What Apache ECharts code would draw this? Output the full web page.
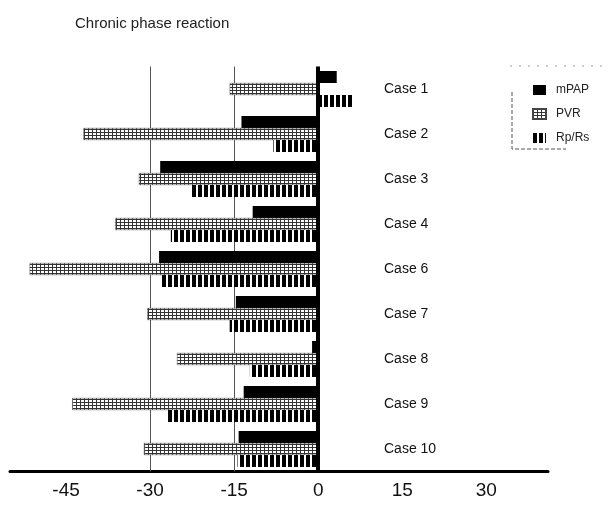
<!DOCTYPE html>
<html><head><meta charset="utf-8">
<script src="https://cdn.jsdelivr.net/npm/echarts@6/dist/echarts.min.js"></script>
<style>html,body{margin:0;padding:0;background:#fff}#c{width:608px;height:512px}</style>
</head><body><div id="c"></div>
<script>
const categories = ['Case 1','Case 2','Case 3','Case 4','Case 6','Case 7','Case 8','Case 9','Case 10'];
const mPAP = [3.3, -13.7, -28.2, -11.7, -28.4, -14.7, -1.1, -13.3, -14.2];
const PVR  = [-15.8, -41.9, -32.0, -36.2, -51.5, -30.5, -25.2, -43.9, -31.1];
const RpRs = [6.2, -8.0, -22.6, -26.3, -27.9, -15.8, -12.2, -26.8, -14.4];
const xTicks = [-45, -30, -15, 0, 15, 30];
const refLines = [-30, -15];

function pvrPattern(){
  const c = document.createElement('canvas'); c.width = 4; c.height = 3;
  const g = c.getContext('2d');
  g.fillStyle = '#fff'; g.fillRect(0,0,4,3);
  g.fillStyle = '#333'; g.fillRect(0,0,4,1); g.fillRect(0,0,1,3);
  return {image: c, repeat: 'repeat'};
}
function stripePattern(){
  const c = document.createElement('canvas'); c.width = 6; c.height = 12;
  const g = c.getContext('2d');
  g.fillStyle = '#fff'; g.fillRect(0,0,6,12);
  g.fillStyle = '#000'; g.fillRect(0,0,4,12);
  return {image: c, repeat: 'repeat'};
}
const font = 'Liberation Sans, Arial, sans-serif';
const chart = echarts.init(document.getElementById('c'), null, {renderer:'canvas'});
chart.setOption({
  animation: false,
  backgroundColor: '#fff',
  title: {text: 'Chronic phase reaction', left: 70, top: 11,
    textStyle: {fontSize: 15, fontWeight: 'normal', color: '#222', fontFamily: font}},
  legend: {data: ['mPAP','PVR','Rp/Rs'], orient: 'vertical', left: 527, top: 79,
    icon: 'rect', itemWidth: 13, itemHeight: 10, itemGap: 12,
    textStyle: {fontSize: 12, color: '#222', fontFamily: font, padding: [0,0,0,5]}},
  graphic: [
    {type:'polyline', shape:{points:[[512,92],[512,149],[566,149]]}, style:{stroke:'#555', lineWidth:1, lineDash:[4,2], fill:null}},
    {type:'line', shape:{x1:510,y1:66,x2:604,y2:66}, style:{stroke:'#999', lineWidth:1, lineDash:[2,7]}}
  ],
  grid: {left: 10, right: 60, top: 66.5, bottom: 40.5, containLabel: false},
  xAxis: {type: 'value', min: -55, max: 41,
    axisLine: {show: true, onZero: false, lineStyle: {color: '#000', width: 3}},
    axisTick: {show: false}, splitLine: {show: false},
    axisLabel: {customValues: xTicks, fontSize: 19, color: '#111', margin: 10, fontFamily: font}},
  yAxis: {type: 'category', data: categories, inverse: true, position: 'right', offset: -172,
    axisLine: {show: false}, axisTick: {show: false},
    axisLabel: {fontSize: 14, color: '#111', margin: 8, fontFamily: font}},
  series: [
    {type: 'line', data: [], z: 1, silent: true,
      markLine: {z: 1, silent: true, symbol: 'none', label: {show: false},
        lineStyle: {color: '#555', width: 1, type: 'solid'},
        data: refLines.map(v => ({xAxis: v}))}},
    {name: 'mPAP', type: 'bar', data: mPAP, barWidth: 12, barGap: '0%', z: 3,
      itemStyle: {color: '#000'}},
    {name: 'PVR', type: 'bar', data: PVR, barWidth: 12, barGap: '0%', z: 3,
      itemStyle: {color: pvrPattern(), borderColor: '#444', borderWidth: 0.5}},
    {name: 'Rp/Rs', type: 'bar', data: RpRs, barWidth: 12, barGap: '0%', z: 3,
      itemStyle: {color: stripePattern()}},
    {type: 'line', data: [], z: 10, silent: true,
      markLine: {z: 10, silent: true, symbol: 'none', label: {show: false},
        lineStyle: {color: '#000', width: 4, type: 'solid'},
        data: [{xAxis: 0}]}}
  ]
});
</script></body></html>
